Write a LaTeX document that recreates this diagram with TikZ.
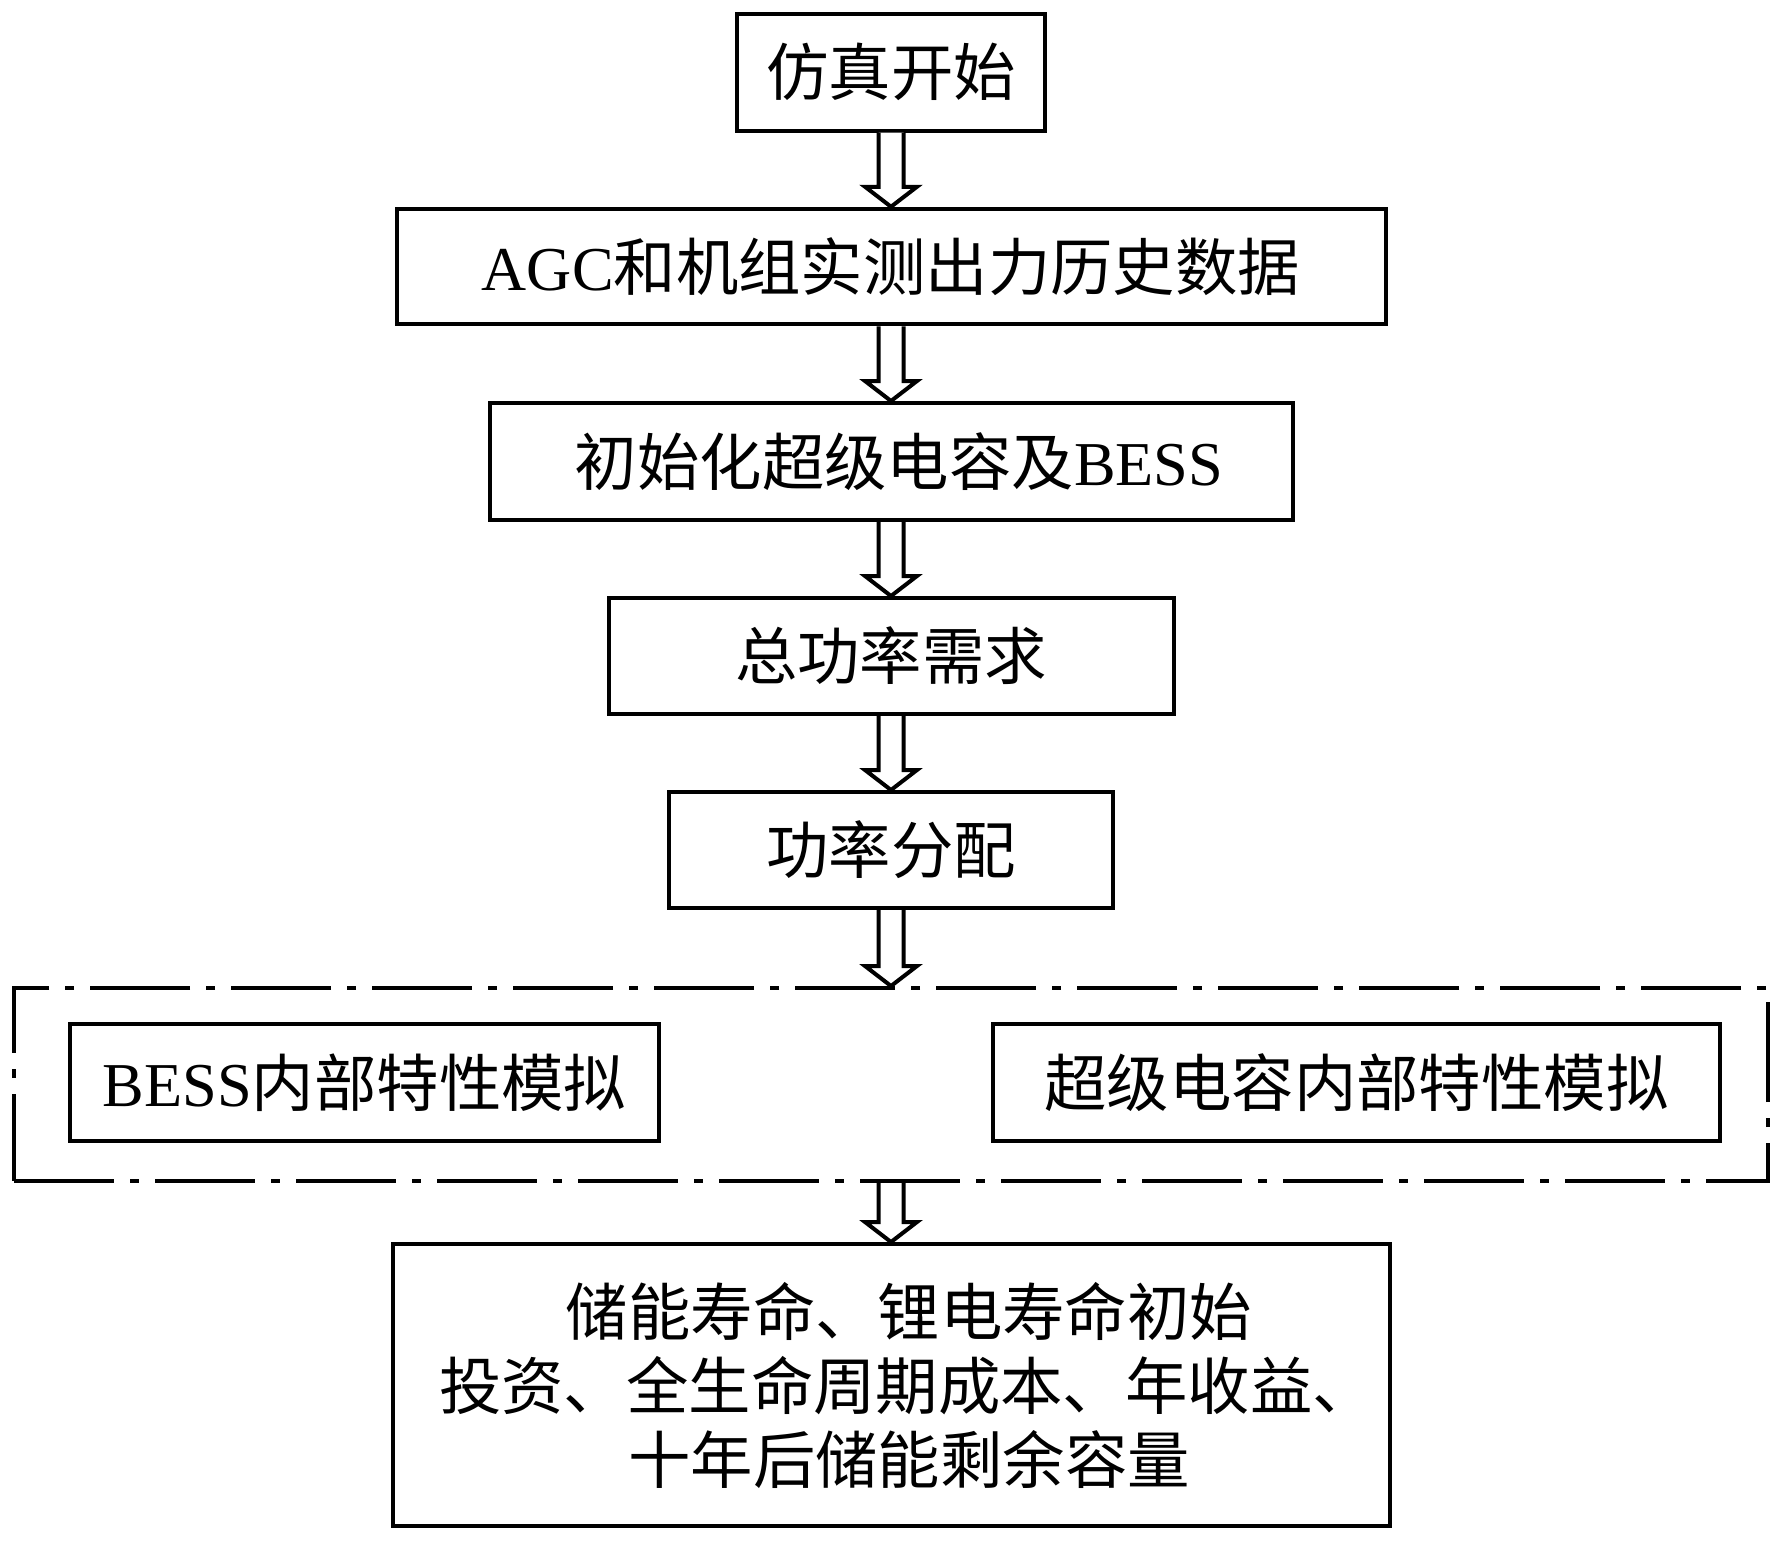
\documentclass[tikz,border=0pt]{standalone}
\usepackage{fontspec}
\setmainfont{Liberation Serif}
\newfontfamily\cjk{Noto Sans CJK SC}
\usetikzlibrary{calc}
\tikzset{
  flowbox/.style={draw, line width=2pt, inner sep=0pt, align=center,
    font=\fontsize{31.2}{37}\selectfont\cjk},
  groupbox/.style={draw, line width=2pt, inner sep=0pt,
    dash pattern=on 50pt off 8pt on 4.5pt off 8pt},
  harrowstyle/.style={draw, fill=white, line width=2pt, line join=miter}
}
\newcommand\harrow[2]{%
  \draw[harrowstyle] let \p1=(#1.south), \p2=(#2.north) in
    (\x1-6.25pt,\y1) -- (\x1-6.25pt,\y2+10pt) -- (\x1-13pt,\y2+10pt) --
    (\x1,\y2) -- (\x1+13pt,\y2+10pt) -- (\x1+6.25pt,\y2+10pt) -- (\x1+6.25pt,\y1);}
\begin{document}
\begin{tikzpicture}[x=0.5pt,y=-0.5pt]
\useasboundingbox (0,0) rectangle (1779,1542);
\node[flowbox, minimum width=154pt, minimum height=58.5pt] (b1) at (891,72) {仿真开始};
\node[flowbox, minimum width=494.5pt, minimum height=57.75pt] (b2) at (891,266.5) {{\rmfamily AGC}和机组实测出力历史数据};
\node[flowbox, minimum width=401.5pt, minimum height=58.5pt] (b3) at (891,461.5) {\hspace*{8pt}初始化超级电容及{\rmfamily BESS}};
\node[flowbox, minimum width=282.5pt, minimum height=58pt] (b4) at (891,656) {总功率需求};
\node[flowbox, minimum width=222pt, minimum height=58pt] (b5) at (891,850) {功率分配};
\node[groupbox, minimum width=877pt, minimum height=96.5pt] (grp) at (891,1084.5) {};
\node[flowbox, minimum width=294.5pt, minimum height=58.5pt] (bess) at (364.5,1082.5) {{\rmfamily BESS}内部特性模拟};
\node[flowbox, minimum width=363.5pt, minimum height=58.5pt] (sc) at (1356.5,1082.5) {超级电容内部特性模拟};
\node[flowbox, minimum width=498.5pt, minimum height=141pt] (fin) at (891,1385)
  {\hspace*{18pt}储能寿命、锂电寿命初始\\\hspace*{16pt}投资、全生命周期成本、年收益、\\\hspace*{18pt}十年后储能剩余容量};
\harrow{b1}{b2}
\harrow{b2}{b3}
\harrow{b3}{b4}
\harrow{b4}{b5}
\harrow{b5}{grp}
\harrow{grp}{fin}
\end{tikzpicture}
\end{document}
